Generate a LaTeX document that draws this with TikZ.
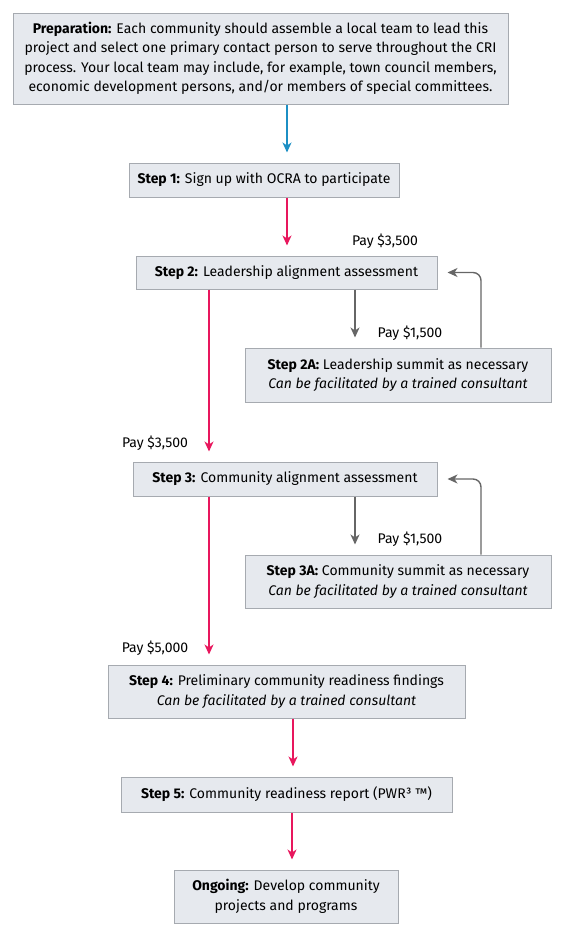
\documentclass[tikz,border=0pt]{standalone}
\usepackage{fontspec}
\setmainfont{Fira Sans}
\usetikzlibrary{arrows.meta}
\definecolor{boxfill}{HTML}{E6E9EE}
\definecolor{boxline}{HTML}{A6AAB0}
\definecolor{flowred}{HTML}{E8175D}
\definecolor{flowblue}{HTML}{1C8FC4}
\definecolor{flowgray}{HTML}{666666}
\tikzset{
  stepbox/.style={draw=boxline, fill=boxfill, line width=1pt, inner sep=0pt,
    align=center, font=\fontsize{14}{19.5}\selectfont},
  paylabel/.style={font=\fontsize{14}{17}\selectfont, inner sep=0pt},
  flow/.style={line width=1.4pt, -{Stealth[length=10pt,width=9pt,inset=3pt]}, shorten >=10pt},
  redflow/.style={flow, draw=flowred},
  blueflow/.style={flow, draw=flowblue},
  grayflow/.style={flow, draw=flowgray},
}
\begin{document}
\begin{tikzpicture}[x=1pt,y=1pt]
\useasboundingbox (0,0) rectangle (568,-940);

% boxes
\node[stepbox, minimum width=495, minimum height=91] (prep) at (260.5,-58.5)
  {\textbf{Preparation:} Each community should assemble a local team to lead this\\
   project and select one primary contact person to serve throughout the CRI\\
   process. Your local team may include, for example, town council members,\\
   economic development persons, and/or members of special committees.};
\node[stepbox, minimum width=270, minimum height=34] (s1) at (264,-180)
  {\textbf{Step 1:} Sign up with OCRA to participate};
\node[stepbox, minimum width=301, minimum height=33] (s2) at (286.5,-272.5)
  {\textbf{Step 2:} Leadership alignment assessment};
\node[stepbox, minimum width=306, minimum height=54] (s2a) at (398,-375)
  {\textbf{Step 2A:} Leadership summit as necessary\\
   \textit{Can be facilitated by a trained consultant}};
\node[stepbox, minimum width=304, minimum height=34] (s3) at (285,-479)
  {\textbf{Step 3:} Community alignment assessment};
\node[stepbox, minimum width=306, minimum height=53] (s3a) at (398,-581.5)
  {\textbf{Step 3A:} Community summit as necessary\\
   \textit{Can be facilitated by a trained consultant}};
\node[stepbox, minimum width=357, minimum height=53] (s4) at (286.5,-691.5)
  {\textbf{Step 4:} Preliminary community readiness findings\\
   \textit{Can be facilitated by a trained consultant}};
\node[stepbox, minimum width=331, minimum height=35] (s5) at (286.5,-794.5)
  {\textbf{Step 5:} Community readiness report (PWR³ ™)};
\node[stepbox, minimum width=224, minimum height=53] (ong) at (286,-896.5)
  {\textbf{Ongoing:} Develop community\\ projects and programs};

% payment labels
\node[paylabel] (p1) at (385,-241) {Pay \$3,500};
\node[paylabel] (p2) at (410,-333) {Pay \$1,500};
\node[paylabel] (p3) at (155,-443) {Pay \$3,500};
\node[paylabel] (p4) at (410,-539) {Pay \$1,500};
\node[paylabel] (p5) at (155,-648) {Pay \$5,000};

% main flow
\draw[blueflow] (prep.south -| 287,0) -- (s1.north -| 287,0);
\draw[redflow] (s1.south -| 287,0) -- (s2.north -| 287,0);
\draw[redflow] (s2.south -| 209,0) -- (s3.north -| 209,0);
\draw[redflow] (s3.south -| 209,0) -- (s4.north -| 209,0);
\draw[redflow] (s4.south -| 293,0) -- (s5.north -| 293,0);
\draw[redflow] (s5.south -| 292,0) -- (ong.north -| 292,0);

% optional summit loops
\draw[grayflow] (s2.south -| 355,0) -- (s2a.north -| 355,0);
\draw[grayflow, rounded corners=8pt] (s2a.north -| 481,0) |- (s2.east);
\draw[grayflow] (s3.south -| 355,0) -- (s3a.north -| 355,0);
\draw[grayflow, rounded corners=8pt] (s3a.north -| 481,0) |- (s3.east);
\end{tikzpicture}
\end{document}
